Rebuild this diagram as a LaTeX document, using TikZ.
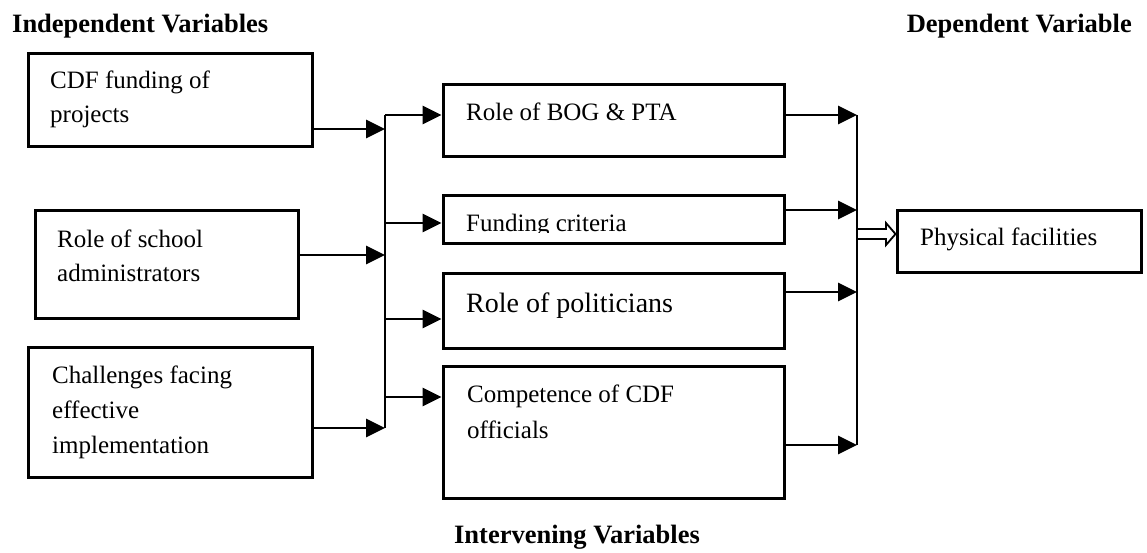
\documentclass[tikz,border=0pt]{standalone}
\usepackage{fontspec}
\setmainfont{Liberation Serif}
\usetikzlibrary{arrows.meta,fit}
\begin{document}
\begin{tikzpicture}[x=1pt,y=-1pt,
  box/.style={draw,line width=3pt,inner sep=0pt,fit={#1}},
  txt/.style={anchor=base west,inner sep=0pt,font=\fontsize{25}{30}\selectfont},
  ttl/.style={inner sep=0pt,font=\fontsize{26.5}{30}\selectfont\bfseries},
  conn/.style={line width=2.8pt},
  arr/.style={line width=2.8pt,-{Triangle[length=19pt,width=18pt]}}]
\useasboundingbox (0,0) rectangle (1147,552);
% boxes
\node[box={(28,53) (312,146)}] (b1) {};
\node[box={(35,210) (298,318)}] (b2) {};
\node[box={(28,347) (312,477)}] (b3) {};
\node[box={(443,84) (784,156)}] (m1) {};
\node[box={(443,195) (784,243)}] (m2) {};
\node[box={(443,273) (784,348)}] (m3) {};
\node[box={(443,366) (784,498)}] (m4) {};
\node[box={(897,210) (1141,272)}] (pf) {};
% texts
\node[txt] (b1a) at (50,88) {CDF funding of};
\node[txt] (b1b) at (50,122) {projects};
\node[txt] (b2a) at (57,247) {Role of school};
\node[txt] (b2b) at (57,281) {administrators};
\node[txt] (b3a) at (52,383) {Challenges facing};
\node[txt] (b3b) at (52,418) {effective};
\node[txt] (b3c) at (52,453) {implementation};
\node[txt] (m1a) at (466,120) {Role of BOG \& PTA};
\begin{scope}
\clip (445,197) rectangle (782,232);
\node[txt] (m2a) at (466,231) {Funding criteria};
\end{scope}
\node[txt,font=\fontsize{28}{32}\selectfont] (m3a) at (466,312) {Role of politicians};
\node[txt] (m4a) at (467,402) {Competence of CDF};
\node[txt] (m4b) at (467,438) {officials};
\node[txt] (pfa) at (920,245) {Physical facilities};
% titles
\node[ttl,anchor=base west] (ti) at (12,32) {Independent Variables};
\node[ttl,anchor=base east] (td) at (1132,32) {Dependent Variable};
\node[ttl,anchor=base east] (tv) at (700,543) {Intervening Variables};
% left trunk
\coordinate (t1) at (385,129);
\coordinate (t2) at (385,255);
\coordinate (t3) at (385,428);
\coordinate (s1) at (385,115);
\coordinate (s2) at (385,223);
\coordinate (s3) at (385,319);
\coordinate (s4) at (385,397);
\draw[conn] (s1) -- (t3);
\draw[arr] (b1.east |- t1) -- (t1);
\draw[arr] (b2.east |- t2) -- (t2);
\draw[arr] (b3.east |- t3) -- (t3);
\draw[arr] (s1) -- (s1 -| m1.west);
\draw[arr] (s2) -- (s2 -| m2.west);
\draw[arr] (s3) -- (s3 -| m3.west);
\draw[arr] (s4) -- (s4 -| m4.west);
% right trunk
\coordinate (r1) at (857,115);
\coordinate (r2) at (857,210);
\coordinate (r3) at (857,292);
\coordinate (r4) at (857,445);
\draw[conn] (r1) -- (r4);
\draw[arr] (m1.east |- r1) -- (r1);
\draw[arr] (m2.east |- r2) -- (r2);
\draw[arr] (m3.east |- r3) -- (r3);
\draw[arr] (m4.east |- r4) -- (r4);
% open block arrow
\coordinate (o) at (857,234);
\draw[line width=1.8pt,line join=miter] ([shift={(0,-5)}]o) -- (886,229) -- (886,223) -- (o -| pf.west) -- (886,245) -- (886,239) -- ([shift={(0,5)}]o);
\end{tikzpicture}
\end{document}
